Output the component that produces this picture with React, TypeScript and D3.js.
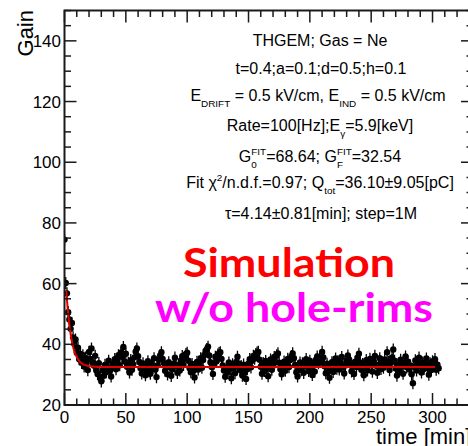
import React from "react";
import * as d3 from "d3";

// Gain measured each minute (t = 0 .. 305 min)
const gainValues: number[] = [
  74.5, 60.2, 56.8, 50.6, 48.2, 45.1, 47.0, 42.3, 40.1, 41.6,
  37.2, 38.9, 35.1, 36.8, 33.9, 36.4, 32.7, 35.6, 34.0, 31.5,
  37.5, 35.2, 38.6, 34.1, 33.0, 36.2, 31.4, 30.2, 33.8, 28.9,
  27.8, 31.5, 29.6, 33.2, 30.8, 32.4, 34.6, 31.2, 29.4, 32.9,
  33.6, 35.1, 31.8, 34.7, 36.4, 33.1, 37.2, 35.8, 39.1, 34.3,
  36.9, 32.6, 33.9, 30.7, 34.8, 31.6, 33.4, 35.7, 37.6, 38.6,
  36.1, 34.2, 32.1, 30.4, 33.7, 31.9, 29.8, 32.8, 34.4, 31.1,
  30.3, 33.5, 32.2, 35.4, 31.7, 29.2, 33.1, 34.9, 36.3, 37.4,
  35.2, 33.8, 31.3, 32.7, 30.1, 34.1, 32.4, 29.6, 31.8, 33.6,
  35.6, 32.9, 30.6, 33.3, 31.4, 34.7, 36.1, 33.2, 35.3, 36.8,
  37.2, 34.6, 32.1, 30.8, 33.5, 31.2, 29.1, 32.6, 34.2, 31.7,
  33.9, 35.4, 32.3, 34.8, 36.5, 37.8, 38.4, 39.2, 36.3, 34.1,
  32.5, 30.2, 33.7, 35.9, 34.4, 36.6, 37.1, 37.4, 35.2, 33.0,
  31.4, 29.3, 32.2, 30.7, 34.0, 31.9, 28.8, 33.4, 32.1, 30.5,
  34.2, 35.9, 33.6, 31.5, 32.8, 29.7, 33.3, 30.9, 28.6, 31.8,
  33.7, 35.1, 32.4, 34.6, 36.2, 35.3, 36.8, 37.3, 37.5, 34.9,
  32.6, 30.3, 33.8, 31.2, 34.5, 32.0, 29.5, 33.1, 35.0, 31.6,
  33.4, 35.8, 34.1, 36.4, 37.0, 33.9, 31.8, 30.1, 32.7, 34.3,
  31.3, 33.6, 35.2, 32.5, 34.8, 36.1, 37.0, 35.4, 33.2, 30.8,
  29.4, 32.3, 34.0, 31.5, 33.7, 30.6, 32.9, 35.1, 33.5, 31.2,
  34.6, 32.1, 29.9, 33.3, 31.0, 34.9, 36.0, 33.8, 35.5, 34.2,
  37.5, 35.7, 32.8, 30.5, 33.6, 31.3, 29.0, 32.4, 34.1, 30.9,
  33.2, 35.3, 32.0, 34.4, 31.7, 33.9, 35.8, 32.6, 30.4, 33.0,
  34.7, 36.3, 35.0, 33.4, 31.1, 32.8, 30.2, 34.3, 32.5, 35.6,
  36.9, 34.0, 31.6, 33.5, 29.8, 32.2, 34.8, 31.4, 33.1, 35.2,
  33.7, 31.0, 34.5, 36.2, 32.9, 30.6, 33.3, 35.4, 31.9, 34.1,
  32.3, 35.0, 33.6, 37.4, 34.2, 31.5, 33.8, 35.7, 38.3, 34.6,
  32.0, 29.7, 33.4, 31.2, 34.9, 32.7, 30.3, 33.9, 36.0, 32.4,
  34.3, 31.8, 33.0, 30.1, 27.2, 32.6, 34.7, 31.4, 33.5, 35.6,
  32.8, 30.7, 34.0, 31.9, 33.6, 35.3, 32.2, 30.0, 33.7, 31.5,
  34.4, 32.9, 35.1, 31.6, 33.3, 32.1,
];
const timeValues: number[] = gainValues.map((_, i) => i);
const gainError = 2.0;
const timeError = 0.6;

// Exponential fit parameters
const fitG0 = 68.64;
const fitGF = 32.54;
const fitTau = 4.14;
const fitRange: [number, number] = [1.5, 302];

const xTicksMajor = [0, 50, 100, 150, 200, 250, 300];
const yTicksMajor = [20, 40, 60, 80, 100, 120, 140];

const W = 468;
const H = 446;
const frameL = 64.5;
const frameR = 473;
const frameT = 10.5;
const frameB = 405;

const x = d3.scaleLinear().domain([0, 333]).range([frameL, frameR]);
const y = d3.scaleLinear().domain([20, 150]).range([frameB, frameT]);

type Seg = { t: string; k?: "sub" | "sup"; back?: number };

const FONT = "'Liberation Sans', Arial, Helvetica, sans-serif";

function RichLine({ cx, by, segs, size }: { cx: number; by: number; segs: Seg[]; size: number }) {
  let offset = 0;
  const small = size * 0.62;
  const parts = segs.map((s, i) => {
    const target = s.k === "sub" ? size * 0.38 : s.k === "sup" ? -size * 0.42 : 0;
    const dy = target - offset;
    offset = target;
    return (
      <tspan
        key={i}
        dy={dy}
        dx={s.back ? -s.back : undefined}
        fontSize={s.k ? small : size}
      >
        {s.t}
      </tspan>
    );
  });
  return (
    <text x={cx} y={by} textAnchor="middle" fontFamily={FONT} fontSize={size} fill="#000" style={{ whiteSpace: "pre" }}>
      {parts}
    </text>
  );
}

export default function App() {
  const fitPts = d3.range(fitRange[0], fitRange[1] + 0.001, 0.5).map((t) => [
    t,
    fitGF + (fitG0 - fitGF) * Math.exp(-t / fitTau),
  ]);
  const fitLine = d3
    .line<number[]>()
    .x((d) => x(d[0]))
    .y((d) => y(d[1]))
    .curve(d3.curveMonotoneX);

  const xMinor = d3.range(0, 334, 10);
  const yMinor = d3.range(20, 151, 5);
  const axisColor = "#1a1a1a";
  const size = 16;
  const subW = size * 0.62 * 0.556;

  return (
    <svg
      width={W}
      height={H}
      style={{ position: "absolute", left: 0, top: 0, background: "#fff" }}
      xmlns="http://www.w3.org/2000/svg"
    >
      <defs>
        <clipPath id="plotArea">
          <rect x={frameL} y={frameT} width={frameR - frameL} height={frameB - frameT} />
        </clipPath>
      </defs>

      {/* data points with error bars */}
      <g clipPath="url(#plotArea)">
        {gainValues.map((g, i) => {
          const cx = x(timeValues[i]);
          const cy = y(g);
          return (
            <g key={i}>
              <line x1={cx} x2={cx} y1={y(g - gainError)} y2={y(g + gainError)} stroke="#000" strokeWidth={1.3} />
              <line
                x1={x(timeValues[i] - timeError)}
                x2={x(timeValues[i] + timeError)}
                y1={cy}
                y2={cy}
                stroke="#000"
                strokeWidth={1.3}
              />
              <circle cx={cx} cy={cy} r={3.2} fill="#000" />
            </g>
          );
        })}
        <path d={fitLine(fitPts) || ""} fill="none" stroke="#e00000" strokeWidth={2} />
      </g>

      {/* frame */}
      <rect
        x={frameL}
        y={frameT}
        width={frameR - frameL}
        height={frameB - frameT}
        fill="none"
        stroke={axisColor}
        strokeWidth={2}
      />

      {/* x ticks, bottom and top */}
      {xMinor.map((t) => {
        const major = t % 50 === 0;
        const len = major ? 12 : 6.5;
        return (
          <g key={"xt" + t}>
            <line x1={x(t)} x2={x(t)} y1={frameB} y2={frameB - len} stroke={axisColor} strokeWidth={1.5} />
            <line x1={x(t)} x2={x(t)} y1={frameT} y2={frameT + len} stroke={axisColor} strokeWidth={1.5} />
          </g>
        );
      })}
      {/* y ticks, left and right */}
      {yMinor.map((v) => {
        const major = v % 20 === 0;
        const len = major ? 12 : 6.5;
        return (
          <g key={"yt" + v}>
            <line x1={frameL} x2={frameL + len} y1={y(v)} y2={y(v)} stroke={axisColor} strokeWidth={1.5} />
            <line x1={frameR} x2={frameR - len} y1={y(v)} y2={y(v)} stroke={axisColor} strokeWidth={1.5} />
          </g>
        );
      })}

      {/* tick labels */}
      {xTicksMajor.map((t) => (
        <text key={"xl" + t} x={x(t)} y={423} textAnchor="middle" fontFamily={FONT} fontSize={17} fill="#000">
          {t}
        </text>
      ))}
      {yTicksMajor.map((v) => (
        <text key={"yl" + v} x={61} y={y(v) + 6} textAnchor="end" fontFamily={FONT} fontSize={17} fill="#000">
          {v}
        </text>
      ))}

      {/* axis titles */}
      <text
        transform="translate(33,10) rotate(-90)"
        textAnchor="end"
        fontFamily={FONT}
        fontSize={22}
        fill="#000"
      >
        Gain
      </text>
      <text x={376} y={444} fontFamily={FONT} fontSize={22} fill="#000">
        time [min]
      </text>

      {/* parameter box */}
      <RichLine cx={320} by={46} size={size} segs={[{ t: "THGEM; Gas = Ne" }]} />
      <RichLine cx={321} by={74} size={size} segs={[{ t: "t=0.4;a=0.1;d=0.5;h=0.1" }]} />
      <RichLine
        cx={318}
        by={101}
        size={size}
        segs={[
          { t: "E" },
          { t: "DRIFT", k: "sub" },
          { t: " = 0.5 kV/cm, E" },
          { t: "IND", k: "sub" },
          { t: " = 0.5 kV/cm" },
        ]}
      />
      <RichLine
        cx={320}
        by={131}
        size={size}
        segs={[{ t: "Rate=100[Hz];E" }, { t: "γ", k: "sub" }, { t: "=5.9[keV]" }]}
      />
      <RichLine
        cx={320}
        by={162}
        size={size}
        segs={[
          { t: "G" },
          { t: "0", k: "sub" },
          { t: "FIT", k: "sup", back: subW },
          { t: "=68.64; G" },
          { t: "F", k: "sub" },
          { t: "FIT", k: "sup", back: size * 0.62 * 0.611 },
          { t: "=32.54" },
        ]}
      />
      <RichLine
        cx={320}
        by={188}
        size={size}
        segs={[
          { t: "Fit χ" },
          { t: "2", k: "sup" },
          { t: "/n.d.f.=0.97; Q" },
          { t: "tot", k: "sub" },
          { t: "=36.10±9.05[pC]" },
        ]}
      />
      <RichLine cx={321} by={219} size={size} segs={[{ t: "τ=4.14±0.81[min]; step=1M" }]} />

      {/* annotation */}
      <text
        x={183}
        y={277}
        fontFamily="Lato, 'Open Sans', sans-serif"
        fontWeight={700}
        fontSize={40}
        fill="#ff0000"
        textLength={212}
        lengthAdjust="spacingAndGlyphs"
      >
        Simulation
      </text>
      <text
        x={155}
        y={322}
        fontFamily="Lato, 'Open Sans', sans-serif"
        fontWeight={700}
        fontSize={40}
        fill="#ff00ff"
        textLength={278}
        lengthAdjust="spacingAndGlyphs"
      >
        w/o hole-rims
      </text>
    </svg>
  );
}
